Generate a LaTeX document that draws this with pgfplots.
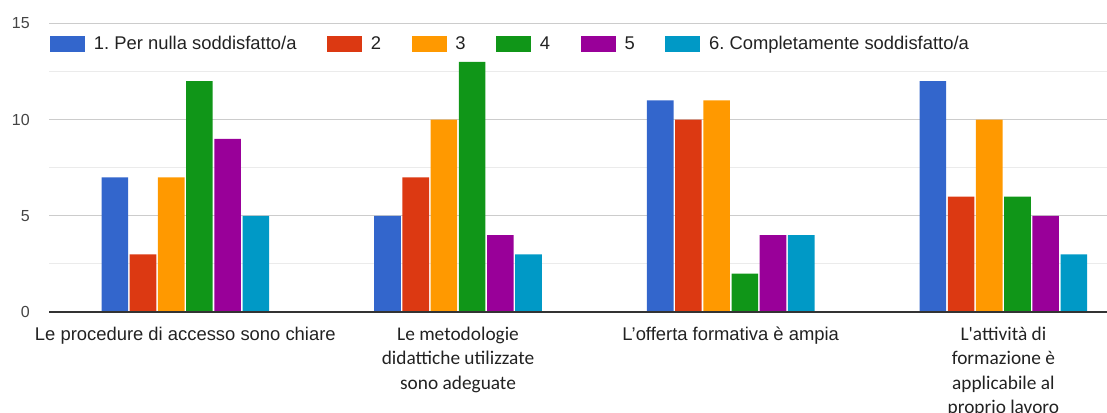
\documentclass[border=0pt]{standalone}
\usepackage{pgfplots}
\pgfplotsset{compat=1.18}
\usepackage{fontspec}
\setmainfont{Liberation Sans}
\newfontfamily\carlito{Carlito}
\frenchspacing
\definecolor{c1}{HTML}{3366CC}
\definecolor{c2}{HTML}{DC3912}
\definecolor{c3}{HTML}{FF9900}
\definecolor{c4}{HTML}{109618}
\definecolor{c5}{HTML}{990099}
\definecolor{c6}{HTML}{0099C6}
\definecolor{txt}{HTML}{222222}
\definecolor{tickc}{HTML}{444444}
\definecolor{gridmaj}{HTML}{CCCCCC}
\definecolor{gridmin}{HTML}{EBEBEB}
\definecolor{zeroc}{HTML}{333333}
\newcommand{\lbA}[1]{{\fontsize{13.8}{18.4}\selectfont\begin{tabular}{@{}c@{}}#1\end{tabular}}}
\newcommand{\lbB}[1]{{\carlito\fontsize{14.5}{18.4}\selectfont\begin{tabular}{@{}c@{}}#1\end{tabular}}}
\begin{document}
\begin{tikzpicture}
\path[use as bounding box] (0,0) rectangle (830.25pt,309pt);
\begin{axis}[
  at={(36.75pt,75pt)}, anchor=south west,
  scale only axis, width=793.5pt, height=216.4pt,
  xmin=-0.5, xmax=3.38, ymin=0, ymax=15,
  ybar=1.2pt, bar width=19.95pt,
  axis line style={draw=none},
  major tick length=0pt, minor tick length=0pt,
  ytick={0,5,10,15}, minor ytick={2.5,7.5,12.5},
  ymajorgrids, yminorgrids,
  major grid style={draw=gridmaj, line width=0.75pt},
  minor grid style={draw=gridmin, line width=0.75pt},
  xtick={0,1,2,3},
  xticklabels={
    {\lbA{Le procedure di accesso sono chiare}},
    {\lbB{Le metodologie\\didattiche utilizzate\\sono adeguate}},
    {\lbA{L'offerta formativa è ampia}},
    {\lbB{L'attività di\\formazione è\\applicabile al\\proprio lavoro}}},
  xticklabel style={anchor=north, inner sep=0pt, yshift=-8.1pt, text=txt},
  yticklabel style={anchor=east, inner sep=0pt, xshift=-14.25pt, text=tickc, font=\fontsize{12}{14}\selectfont},
  /pgf/number format/assume math mode=true,
  legend columns=6,
  legend style={at={(0.001,0.929)}, anchor=west, draw=none, fill=none, inner sep=0pt,
    font=\fontsize{13.8}{16}\selectfont, text=txt, nodes={inner sep=0pt},
    /tikz/every odd column/.append style={column sep=6.5pt},
    /tikz/every even column/.append style={column sep=23pt}},
  legend image code/.code={\fill[#1,draw=none] (0pt,-6pt) rectangle (26.25pt,6pt);},
]
\addplot[fill=c1, draw=none] coordinates {(0,7) (1,5) (2,11) (3,12)};
\addplot[fill=c2, draw=none] coordinates {(0,3) (1,7) (2,10) (3,6)};
\addplot[fill=c3, draw=none] coordinates {(0,7) (1,10) (2,11) (3,10)};
\addplot[fill=c4, draw=none] coordinates {(0,12) (1,13) (2,2) (3,6)};
\addplot[fill=c5, draw=none] coordinates {(0,9) (1,4) (2,4) (3,5)};
\addplot[fill=c6, draw=none] coordinates {(0,5) (1,3) (2,4) (3,3)};
\legend{1. Per nulla soddisfatto/a, 2, 3, 4, 5, 6. Completamente soddisfatto/a}
\draw[zeroc, line width=1.5pt] (rel axis cs:0,0) -- (rel axis cs:1,0);
\end{axis}
\end{tikzpicture}
\end{document}
